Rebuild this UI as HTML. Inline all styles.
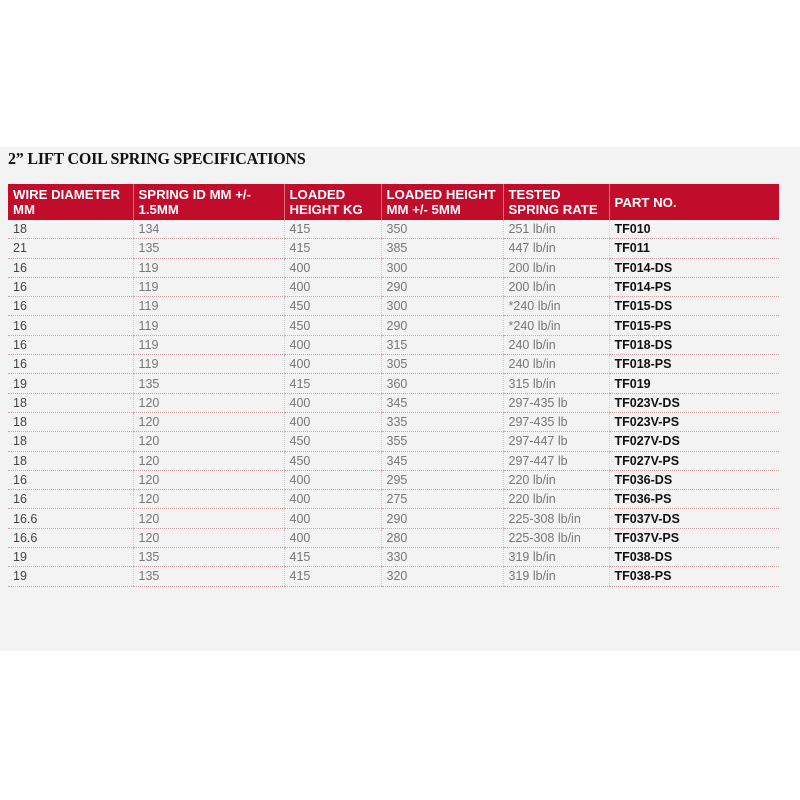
<!DOCTYPE html>
<html><head><style>
body{margin:0;width:800px;height:800px;background:#fff;position:relative;font-family:"Liberation Sans",Arial,sans-serif;overflow:hidden}
.bg{position:absolute;left:0;top:147px;width:800px;height:504px;background:#f3f3f3}
h1{position:absolute;left:8px;top:149px;margin:0;font-family:"Liberation Serif",serif;font-weight:bold;font-size:17px;color:#111;letter-spacing:-0.2px;transform:scaleX(0.94);transform-origin:left}
table{position:absolute;left:8px;top:184px;width:771px;border-collapse:collapse;table-layout:fixed}
th{background:#c20c2c;color:#fff;font-size:13.2px;text-align:left;font-weight:bold;padding:2px 3px 2px 5px;height:32px;line-height:15px;border-left:1px solid #e07080;vertical-align:middle;white-space:nowrap;overflow:hidden}
th:first-child{border-left:none}
td{font-size:12.5px;color:#777;padding:0 5px;height:18.3px;line-height:18px;border-bottom:1px dotted #d9a0a8;border-left:1px dotted #ccc}
td:first-child{border-left:none;color:#444}
td:last-child{color:#111;font-weight:bold}
</style></head><body>
<div class="bg"></div>
<h1>2” LIFT COIL SPRING SPECIFICATIONS</h1>
<table>
<colgroup><col style="width:125px"><col style="width:151px"><col style="width:97px"><col style="width:122px"><col style="width:106px"><col style="width:170px"></colgroup>
<tr><th>WIRE DIAMETER<br>MM</th><th>SPRING ID MM +/-<br>1.5MM</th><th>LOADED<br>HEIGHT KG</th><th>LOADED HEIGHT<br>MM +/- 5MM</th><th>TESTED<br>SPRING RATE</th><th>PART NO.</th></tr>
<tr><td>18</td><td>134</td><td>415</td><td>350</td><td>251 lb/in</td><td>TF010</td></tr>
<tr><td>21</td><td>135</td><td>415</td><td>385</td><td>447 lb/in</td><td>TF011</td></tr>
<tr><td>16</td><td>119</td><td>400</td><td>300</td><td>200 lb/in</td><td>TF014-DS</td></tr>
<tr><td>16</td><td>119</td><td>400</td><td>290</td><td>200 lb/in</td><td>TF014-PS</td></tr>
<tr><td>16</td><td>119</td><td>450</td><td>300</td><td>*240 lb/in</td><td>TF015-DS</td></tr>
<tr><td>16</td><td>119</td><td>450</td><td>290</td><td>*240 lb/in</td><td>TF015-PS</td></tr>
<tr><td>16</td><td>119</td><td>400</td><td>315</td><td>240 lb/in</td><td>TF018-DS</td></tr>
<tr><td>16</td><td>119</td><td>400</td><td>305</td><td>240 lb/in</td><td>TF018-PS</td></tr>
<tr><td>19</td><td>135</td><td>415</td><td>360</td><td>315 lb/in</td><td>TF019</td></tr>
<tr><td>18</td><td>120</td><td>400</td><td>345</td><td>297-435 lb</td><td>TF023V-DS</td></tr>
<tr><td>18</td><td>120</td><td>400</td><td>335</td><td>297-435 lb</td><td>TF023V-PS</td></tr>
<tr><td>18</td><td>120</td><td>450</td><td>355</td><td>297-447 lb</td><td>TF027V-DS</td></tr>
<tr><td>18</td><td>120</td><td>450</td><td>345</td><td>297-447 lb</td><td>TF027V-PS</td></tr>
<tr><td>16</td><td>120</td><td>400</td><td>295</td><td>220 lb/in</td><td>TF036-DS</td></tr>
<tr><td>16</td><td>120</td><td>400</td><td>275</td><td>220 lb/in</td><td>TF036-PS</td></tr>
<tr><td>16.6</td><td>120</td><td>400</td><td>290</td><td>225-308 lb/in</td><td>TF037V-DS</td></tr>
<tr><td>16.6</td><td>120</td><td>400</td><td>280</td><td>225-308 lb/in</td><td>TF037V-PS</td></tr>
<tr><td>19</td><td>135</td><td>415</td><td>330</td><td>319 lb/in</td><td>TF038-DS</td></tr>
<tr><td>19</td><td>135</td><td>415</td><td>320</td><td>319 lb/in</td><td>TF038-PS</td></tr>
</table>
</body></html>
